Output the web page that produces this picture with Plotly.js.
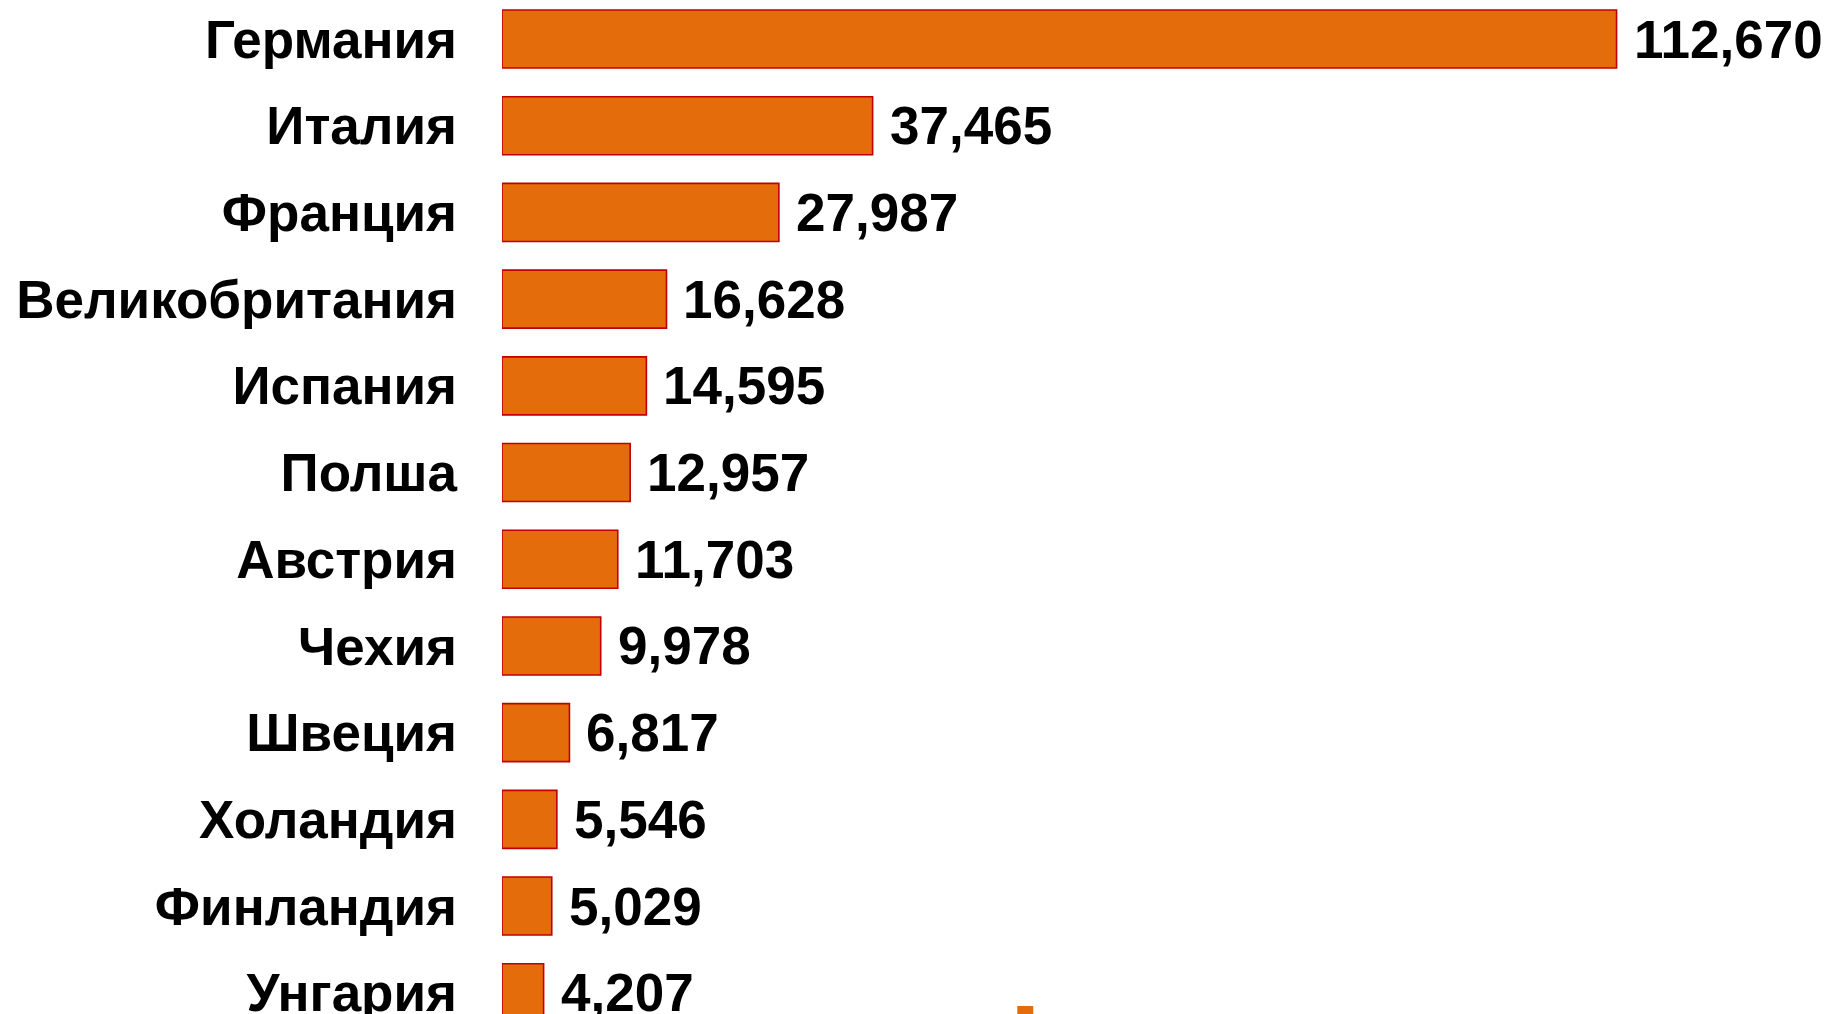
<!DOCTYPE html>
<html>
<head>
<meta charset="utf-8">
<script src="https://cdn.plot.ly/plotly-3.0.1.min.js"></script>
<style>
html,body{margin:0;padding:0;overflow:hidden;background:#fff;}
#chart{width:1826px;height:1014px;}
</style>
</head>
<body>
<div id="chart"></div>
<script>
const countries = ["Германия","Италия","Франция","Великобритания","Испания","Полша","Австрия","Чехия","Швеция","Холандия","Финландия","Унгария"];
const values = [112670, 37465, 27987, 16628, 14595, 12957, 11703, 9978, 6817, 5546, 5029, 4207];

const fontFamily = '"Liberation Sans", Arial, sans-serif';

const trace = {
  type: 'bar',
  orientation: 'h',
  x: values,
  y: countries,
  marker: {color: '#E46C0A', line: {color: '#C00000', width: 1.6}},
  hoverinfo: 'x+y',
  showlegend: false
};

const annotations = values.map((v, i) => ({
  x: v,
  y: countries[i],
  xref: 'x',
  yref: 'y',
  text: v.toLocaleString('en-US'),
  showarrow: false,
  xanchor: 'left',
  yanchor: 'middle',
  xshift: 15,
  yshift: 0,
  font: {family: fontFamily, size: 53, color: '#000', weight: 700}
}));

const layout = {
  width: 1826,
  height: 1014,
  margin: {l: 502, r: 38, t: 0, b: 0, pad: 0},
  paper_bgcolor: '#fff',
  plot_bgcolor: '#fff',
  bargap: 0.331,
  xaxis: {
    range: [0, 130000],
    showgrid: false,
    zeroline: false,
    showline: false,
    showticklabels: false,
    ticks: '',
    fixedrange: true
  },
  yaxis: {
    type: 'category',
    range: [11.245, -0.45],
    showgrid: false,
    zeroline: false,
    showline: false,
    ticks: '',
    ticklabelstandoff: 44,
    tickfont: {family: fontFamily, size: 53, color: '#000', weight: 700},
    fixedrange: true
  },
  annotations: annotations,
  shapes: [{
    type: 'rect', xref: 'paper', yref: 'paper',
    x0: 0.4007, x1: 0.4131, y0: -0.01, y1: 0.0079,
    fillcolor: '#E46C0A', line: {width: 0}, layer: 'above'
  }]
};

Plotly.newPlot('chart', [trace], layout, {displayModeBar: false, responsive: false});
</script>
</body>
</html>
